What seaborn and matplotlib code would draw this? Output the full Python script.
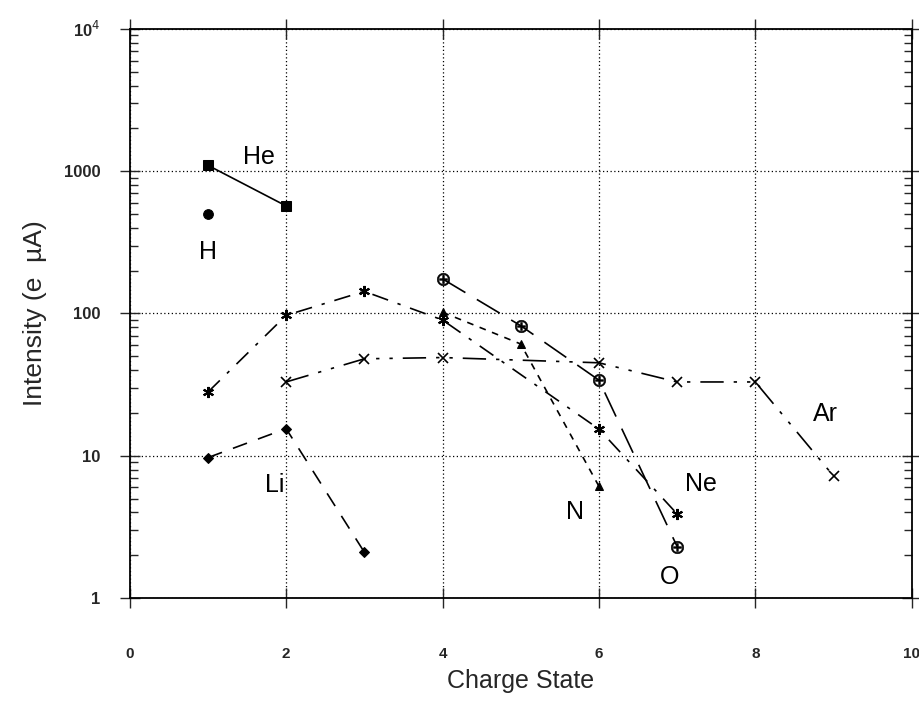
import numpy as np
import pandas as pd
import matplotlib
matplotlib.use("Agg")
import matplotlib.pyplot as plt
import matplotlib.ticker as mticker
import seaborn as sns

# --- data ---
h_q = [1]
h_i = [500]
he_q = [1, 2]
he_i = [1100, 570]
li_q = [1, 2, 3]
li_i = [9.7, 15.5, 2.1]
n_q = [4, 5, 6]
n_i = [102, 61, 6.1]
o_q = [4, 5, 6, 7]
o_i = [175, 82, 34, 2.3]
ne_q = [1, 2, 3, 4, 6, 7]
ne_i = [28, 97, 143, 90, 15.4, 3.9]
ar_q = [2, 3, 4, 6, 7, 8, 9]
ar_i = [33, 48, 49, 45, 33, 33, 7.2]

y_ticks = [1, 10, 100, 1000, 10000]
y_tick_labels = ["1", "10", "100", "1000", r"10$^4$"]
x_ticks = [0, 2, 4, 6, 8, 10]

# series label text and where it sits
labels = ["He", "H", "Li", "N", "Ne", "O", "Ar"]
label_x = [1.65, 1.0, 1.85, 5.7, 7.3, 6.9, 8.9]
label_y = [1250, 270, 6.2, 4.0, 6.3, 1.4, 19.5]

sns.set_style("ticks")
plt.rcParams["font.family"] = ["Liberation Sans", "DejaVu Sans"]

fig = plt.figure(figsize=(9.2, 7.06), dpi=100)
ax = fig.add_axes([0.141, 0.153, 0.850, 0.806])

k = dict(color="black", linewidth=1.2, markeredgecolor="black", ax=ax)

sns.lineplot(x=h_q, y=h_i, marker="o", markersize=7, linestyle="none", **k)
sns.lineplot(x=he_q, y=he_i, marker="s", markersize=7, linestyle="-", **k)
sns.lineplot(x=li_q, y=li_i, marker="D", markersize=5, linestyle=(0, (9, 7)), **k)
sns.lineplot(x=n_q, y=n_i, marker="^", markersize=6, linestyle=(0, (4, 4)), **k)
sns.lineplot(x=o_q, y=o_i, marker=r"$\oplus$", markersize=9, markeredgewidth=0.4,
             linestyle=(0, (16, 8)), **k)
sns.lineplot(x=ne_q, y=ne_i, marker=(6, 2, 0), markersize=8, markeredgewidth=1.5,
             linestyle=(0, (10, 6, 2, 6)), **k)
sns.lineplot(x=ar_q, y=ar_i, marker="x", markersize=6.5, markeredgewidth=1.2,
             linestyle=(0, (14, 6, 2, 6, 2, 6)), **k)

for t, lx, ly in zip(labels, label_x, label_y):
    ax.text(lx, ly, t, fontsize=18, ha="center", va="center", color="black")

ax.set_yscale("log")
ax.set_xlim(0, 10)
ax.set_ylim(1, 10000)
ax.set_xticks(x_ticks)
ax.set_xticklabels([str(v) for v in x_ticks])
ax.yaxis.set_major_locator(mticker.FixedLocator(y_ticks))
ax.yaxis.set_major_formatter(mticker.FixedFormatter(y_tick_labels))
ax.yaxis.set_minor_locator(mticker.LogLocator(base=10, subs=np.arange(2, 10)))
ax.yaxis.set_minor_formatter(mticker.NullFormatter())

ax.grid(True, which="major", linestyle=(0, (1, 2)), color="black", linewidth=0.9)
ax.tick_params(axis="x", which="major", direction="inout", length=14, width=1,
               top=True, pad=28, labelsize=11)
ax.tick_params(axis="y", which="major", direction="inout", length=14, width=1,
               right=True, pad=14, labelsize=12)
ax.tick_params(axis="y", which="minor", direction="in", length=6, width=1, right=True)
for lab in ax.get_xticklabels() + ax.get_yticklabels():
    lab.set_fontweight("bold")
for s in ax.spines.values():
    s.set_visible(True)
    s.set_linewidth(1.3)
    s.set_color("black")

ax.set_xlabel("Charge State", fontsize=18, labelpad=6)
ax.set_ylabel("Intensity (e  \u00b5A)", fontsize=19, labelpad=12)

fig.savefig("out.png", dpi=100, facecolor="white")
